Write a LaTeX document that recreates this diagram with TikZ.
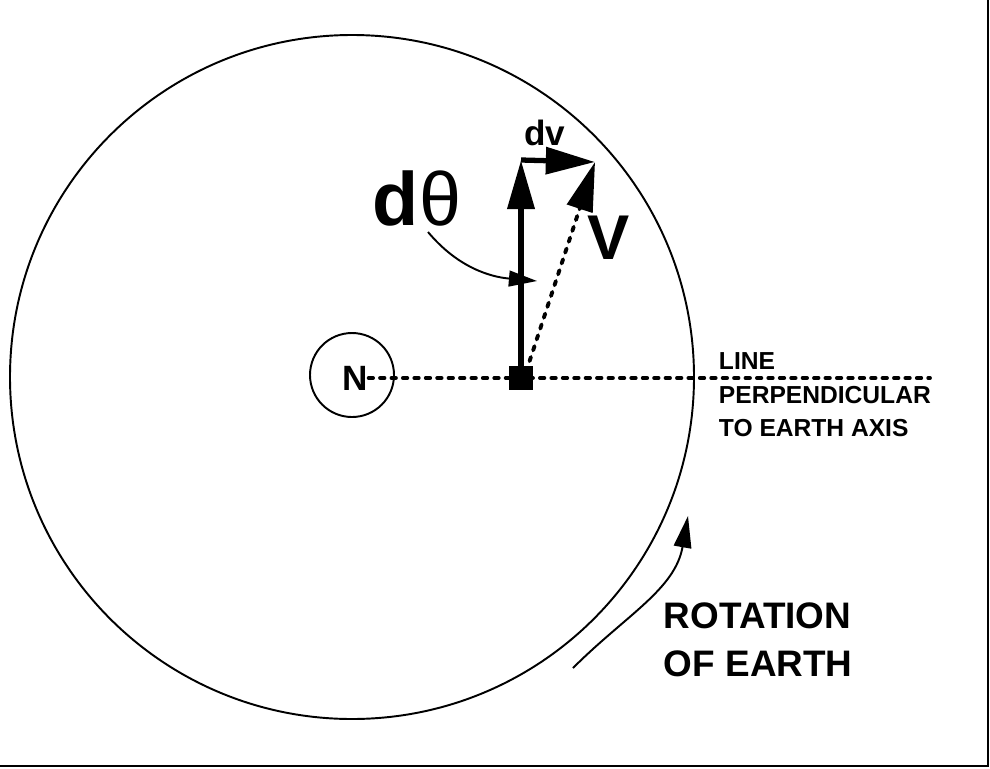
\documentclass[tikz,border=0pt]{standalone}
\usepackage{fontspec}
\setmainfont{Liberation Sans}
\usetikzlibrary{arrows.meta}

\begin{document}
\begin{tikzpicture}[x=0.02cm,y=-0.02cm,line width=1.1pt,
    lbl/.style={inner sep=0pt,font=\bfseries},
    dots/.style={line width=2.2pt,line cap=round,dash pattern=on 2.5pt off 4pt},
    tip/.style={-{Triangle[length=28pt,width=15pt]}}]
  \useasboundingbox (0,0) rectangle (990,768);
  \draw[thick] (988,0) -- (988,766) -- (0,766);
  % earth and pole
  \draw (352,377) circle (342);
  \draw (352,375) circle (42);
  \node[lbl,font=\bfseries\fontsize{20}{20}\selectfont] (N) at (355,378) {N};
  \coordinate (far) at (930,378);
  \node[fill,minimum size=14pt,inner sep=0pt] (base) at (521,378) {};
  \draw[dots] (N.east) -- (far);
  % vectors
  \coordinate (top) at (521,160);
  \coordinate (vend) at (595,162);
  \draw[line width=3.5pt,tip] (base.center) -- (top);
  \draw[line width=3pt,tip] (top) -- (vend);
  \draw[dots,tip] (526,372) -- (vend);
  \node[lbl,font=\bfseries\fontsize{20}{20}\selectfont] (dv) at (545,133) {dv};
  \node[lbl,font=\bfseries\fontsize{43}{43}\selectfont] (dth) at (417,198) {d\mdseries θ};
  \node[lbl,font=\bfseries\fontsize{36}{36}\selectfont] (V) at (609,238) {V};
  \coordinate (mark) at (537,281);
  \draw[-{Triangle[length=16pt,width=9pt]}] (428,232) to[out=-50,in=175] (mark);
  % rotation
  \coordinate (rstart) at (573,668);
  \draw[-{Triangle[length=18pt,width=10pt]}] (rstart) to[out=45,in=-100] (688,516);
  \node[lbl,font=\bfseries\fontsize{21}{27}\selectfont,align=left,anchor=north west] (rot) at (663,602) {ROTATION\\OF EARTH};
  \node[lbl,font=\bfseries\fontsize{14}{19}\selectfont,align=left,anchor=north west] (perp) at (718,352) {LINE\\PERPENDICULAR\\TO EARTH AXIS};
\end{tikzpicture}
\end{document}
